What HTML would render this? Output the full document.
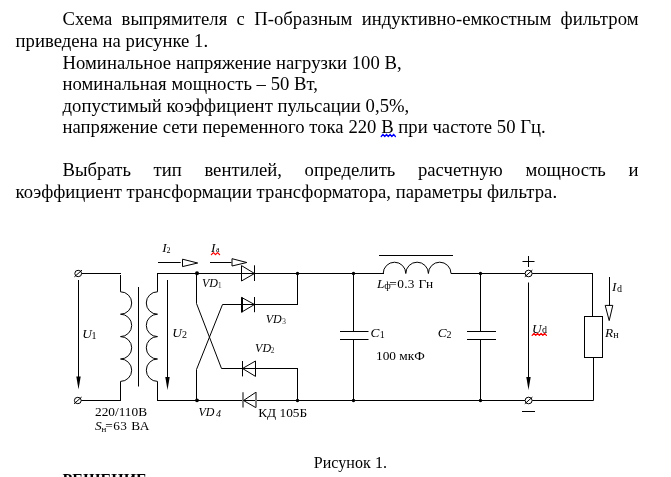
<!DOCTYPE html>
<html><head><meta charset="utf-8">
<style>
html,body{margin:0;padding:0;background:#fff;}
body{width:671px;height:477px;overflow:hidden;position:relative;font-family:"Liberation Serif",serif;color:#000;}
.t{position:absolute;left:15.5px;width:623px;font-size:18.67px;line-height:21.5px;white-space:nowrap;letter-spacing:0.035px;}
.j{text-align:justify;text-align-last:justify;white-space:normal;}
.ind{left:62.5px;width:576px;}
svg{position:absolute;left:0;top:0;}
svg text{font-family:"Liberation Serif",serif;}
.wavy{position:absolute;}
.t,svg.main{filter:grayscale(1);}
</style></head><body>
<div class="t ind j" style="top:8px">Схема выпрямителя с П-образным индуктивно-емкостным фильтром</div>
<div class="t" style="top:29.5px">приведена на рисунке 1.</div>
<div class="t ind" style="top:52px">Номинальное напряжение нагрузки 100 В,</div>
<div class="t ind" style="top:73px">номинальная мощность – 50 Вт,</div>
<div class="t ind" style="top:95px">допустимый коэффициент пульсации 0,5%,</div>
<div class="t ind" style="top:116px">напряжение сети переменного тока 220 В при частоте 50 Гц.</div>
<div class="t ind j" style="top:158.5px">Выбрать тип вентилей, определить расчетную мощность и</div>
<div class="t" style="top:180.5px">коэффициент трансформации трансформатора, параметры фильтра.</div>

<svg class="main" width="671" height="477" viewBox="0 0 671 477">
<g fill="none" stroke="#000" stroke-width="1">
<!-- primary side -->
<ellipse cx="78.2" cy="273.5" rx="3.4" ry="3.2"/>
<line x1="74.4" y1="276.8" x2="82" y2="270.1"/>
<line x1="81.6" y1="273.5" x2="121" y2="273.5"/>
<line x1="120.5" y1="275" x2="120.5" y2="291.8"/>
<path d="M120.5 291.8 A11.2 11.2 0 0 1 120.5 314.2 A11.2 11.2 0 0 1 120.5 336.6 A11.2 11.2 0 0 1 120.5 359 A11.2 11.2 0 0 1 120.5 381.4"/>
<line x1="120.5" y1="381.4" x2="120.5" y2="400.5"/>
<line x1="81.2" y1="400.5" x2="121" y2="400.5"/>
<ellipse cx="77.8" cy="400.5" rx="3.4" ry="3.2"/>
<line x1="74" y1="403.8" x2="81.6" y2="397.1"/>
<line x1="78.5" y1="280" x2="78.5" y2="378"/>
<!-- core -->
<line x1="138.5" y1="287" x2="138.5" y2="386.5"/>
<!-- secondary -->
<line x1="157.5" y1="273.5" x2="157.5" y2="291.8"/>
<path d="M157.5 291.8 A11.2 11.2 0 0 0 157.5 314.2 A11.2 11.2 0 0 0 157.5 336.6 A11.2 11.2 0 0 0 157.5 359 A11.2 11.2 0 0 0 157.5 381.4"/>
<line x1="157.5" y1="381.4" x2="157.5" y2="400.5"/>
<line x1="157" y1="273.5" x2="384" y2="273.5"/>
<line x1="157" y1="400.5" x2="525" y2="400.5"/>
<line x1="167.5" y1="280" x2="167.5" y2="378"/>
<!-- I2 arrow -->
<line x1="158" y1="262.5" x2="180.7" y2="262.5"/>
<path d="M182.5 259.2 L197.7 263 L182.5 266.6 Z" stroke-linejoin="bevel"/>
<!-- Ia arrow -->
<line x1="210" y1="262.5" x2="231.5" y2="262.5"/>
<path d="M232 258.7 L246.8 262.5 L232 266 Z" stroke-linejoin="bevel"/>
<!-- bridge -->
<line x1="196.5" y1="273.5" x2="196.5" y2="303.5"/>
<line x1="196.5" y1="303.5" x2="221.5" y2="368.5"/>
<line x1="221.5" y1="368.5" x2="298" y2="368.5"/>
<line x1="196.5" y1="369.5" x2="222.5" y2="304.5"/>
<line x1="222.5" y1="304.5" x2="298" y2="304.5"/>
<line x1="196.5" y1="369.5" x2="196.5" y2="400.5"/>
<line x1="297.5" y1="273.5" x2="297.5" y2="304.5"/>
<line x1="297.5" y1="368.5" x2="297.5" y2="400.5"/>
<!-- VD1 -->
<path d="M241.5 265.6 L254.5 273.5 L241.5 281 Z"/>
<line x1="254.5" y1="265.3" x2="254.5" y2="281"/>
<!-- VD3 -->
<path d="M241.5 297.4 L254.5 304.5 L241.5 312.2 Z"/>
<line x1="242" y1="297.4" x2="242" y2="312.2" stroke-width="2"/>
<line x1="254.5" y1="297" x2="254.5" y2="312.2"/>
<!-- VD2 -->
<path d="M255.5 361 L242.5 368.5 L255.5 376.4 Z"/>
<line x1="242.5" y1="361" x2="242.5" y2="376.4"/>
<!-- VD4 -->
<line x1="243" y1="392.3" x2="243" y2="407.6" stroke="#808080" stroke-width="2"/>
<line x1="256" y1="392" x2="256" y2="407.6" stroke="#808080" stroke-width="2"/>
<path d="M255.8 392.3 L243.5 400.5 L255.8 407.6" stroke="#000"/>
<!-- filter -->
<line x1="353.5" y1="273.5" x2="353.5" y2="331.5"/>
<line x1="340" y1="331.5" x2="368.5" y2="331.5"/>
<line x1="340" y1="339.5" x2="368.5" y2="339.5"/>
<line x1="353.5" y1="339.5" x2="353.5" y2="400.5"/>
<path d="M383.2 273.5 A11.3 11.3 0 0 1 405.8 273.5 A11.3 11.3 0 0 1 428.4 273.5 A11.3 11.3 0 0 1 451 273.5"/>
<line x1="379" y1="255.5" x2="453" y2="255.5"/>
<line x1="451" y1="273.5" x2="525" y2="273.5"/>
<line x1="532.2" y1="273.5" x2="593" y2="273.5"/>
<line x1="480.5" y1="273.5" x2="480.5" y2="331.5"/>
<line x1="467" y1="331.5" x2="496" y2="331.5"/>
<line x1="467" y1="339.5" x2="496" y2="339.5"/>
<line x1="480.5" y1="339.5" x2="480.5" y2="400.5"/>
<!-- output -->
<line x1="528.5" y1="282.5" x2="528.5" y2="378"/>
<line x1="532.2" y1="400.5" x2="593.5" y2="400.5"/>
<line x1="592.5" y1="273.5" x2="592.5" y2="316.5"/>
<rect x="584.5" y="316.5" width="18" height="41"/>
<line x1="593.5" y1="357.5" x2="593.5" y2="400.5"/>
<line x1="609.5" y1="277" x2="609.5" y2="306"/>
<path d="M605.2 305.4 L609.2 320.6 L612.8 305.4 Z" stroke-linejoin="bevel"/>
<!-- +/- -->
<line x1="522.5" y1="261.5" x2="534.5" y2="261.5"/>
<line x1="528.5" y1="256" x2="528.5" y2="267"/>
<line x1="522" y1="411.5" x2="535" y2="411.5"/>
</g>
<!-- output terminals -->
<g fill="none" stroke="#000" stroke-width="1">
<ellipse cx="528.6" cy="273.5" rx="3.5" ry="3.3"/>
<line x1="524.8" y1="276.8" x2="532.4" y2="270.1"/>
<ellipse cx="528.6" cy="400.5" rx="3.5" ry="3.3"/>
<line x1="524.8" y1="403.8" x2="532.4" y2="397.1"/>
</g>
<!-- filled arrows -->
<g fill="#000" stroke="none">
<path d="M76.3 376.5 L78.5 389.5 L80.7 376.5 Z"/>
<path d="M165.3 377 L167.5 390 L169.7 377 Z"/>
<path d="M526.3 377 L528.5 390 L530.7 377 Z"/>
<circle cx="197" cy="273.3" r="2"/>
<circle cx="297.5" cy="273.5" r="1.7"/>
<circle cx="353.5" cy="273.5" r="1.7"/>
<circle cx="480.5" cy="273.5" r="1.7"/>
<circle cx="197" cy="400.3" r="1.9"/>
<circle cx="297.5" cy="400.5" r="1.7"/>
<circle cx="353.5" cy="400.5" r="1.7"/>
<circle cx="480.5" cy="400.5" r="1.7"/>
</g>
<!-- labels -->
<g font-size="13.33" fill="#000">
<text x="162.2" y="252" font-style="italic">I</text><text x="166.4" y="252.5" font-size="8">2</text>
<text x="211.1" y="251.6" font-style="italic">I</text><text x="216" y="251.6" font-size="8">a</text>
<text x="202" y="286.6" font-style="italic" textLength="16" lengthAdjust="spacingAndGlyphs">VD</text><text x="217.8" y="287.8" font-size="8" fill="#444">1</text>
<text x="265.8" y="323.1" font-style="italic" textLength="16" lengthAdjust="spacingAndGlyphs">VD</text><text x="282" y="323.8" font-size="8" fill="#444">3</text>
<text x="255.1" y="352" font-style="italic" textLength="16" lengthAdjust="spacingAndGlyphs">VD</text><text x="270.5" y="352.7" font-size="8" fill="#444">2</text>
<text x="198.4" y="415.6" font-style="italic" textLength="16" lengthAdjust="spacingAndGlyphs">VD</text><text x="215.9" y="416.75" font-size="10" font-style="italic">4</text>
<text x="258.2" y="416.5">КД 105Б</text>
<text x="82.2" y="337.6" font-style="italic">U</text><text x="91.6" y="338.7" font-size="10">1</text>
<text x="172.3" y="336.6" font-style="italic">U</text><text x="182" y="337.8" font-size="10">2</text>
<text x="95" y="416">220/110В</text>
<text x="95.1" y="430.4" font-style="italic">S</text><text x="101.4" y="431.7" font-size="9">н</text><text x="105.2" y="430.4" textLength="44.2" lengthAdjust="spacing">=63 ВА</text>
<text x="377" y="287.9" font-style="italic">L</text><text x="384.3" y="288.7" font-size="10">ф</text><text x="389.3" y="287.9" textLength="43.8" lengthAdjust="spacing">=0.3 Гн</text>
<text x="370.6" y="336.8" font-style="italic">C</text><text x="379.8" y="337.7" font-size="10">1</text>
<text x="437.8" y="336.8" font-style="italic">C</text><text x="446.4" y="337.7" font-size="10">2</text>
<text x="376" y="359.8">100 мкФ</text>
<text x="532.1" y="332.8" font-style="italic">U</text><text x="542.1" y="333" font-size="10">d</text>
<text x="612.1" y="290.75" font-style="italic">I</text><text x="617" y="291.6" font-size="10">d</text>
<text x="604.9" y="336.75" font-style="italic">R</text><text x="613.2" y="337.7" font-size="10">н</text>
<text x="313.7" y="467.7" font-size="16" textLength="73.4" lengthAdjust="spacing">Рисунок 1.</text>
<text x="62.5" y="485.3" font-size="16" font-weight="bold">РЕШЕНИЕ</text>
</g>
</svg>
<svg width="671" height="477" viewBox="0 0 671 477">
<!-- wavy -->
<g fill="none" stroke-width="1.3" stroke-linejoin="round" stroke-linecap="round">
<path d="M211.40 254.60 L213.45 252.60 L215.50 254.60 L217.55 252.60 L219.60 254.60" stroke="#f00"/>
<path d="M532.20 335.40 L533.98 333.40 L535.75 335.40 L537.52 333.40 L539.30 335.40 L541.08 333.40 L542.85 335.40 L544.62 333.40 L546.40 335.40" stroke="#f00"/>
<path d="M381.20 136.50 L382.97 134.30 L384.75 136.50 L386.52 134.30 L388.30 136.50 L390.07 134.30 L391.85 136.50 L393.62 134.30 L395.40 136.50" stroke="#00f"/>
</g>
</svg>
</body></html>
